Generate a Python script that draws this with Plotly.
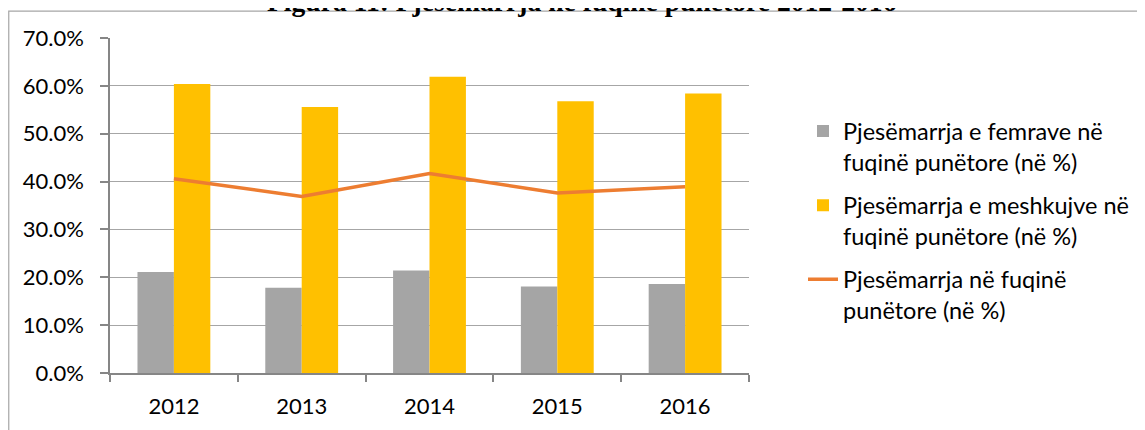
import plotly.graph_objects as go

years = ["2012", "2013", "2014", "2015", "2016"]
female = [0.211, 0.178, 0.214, 0.181, 0.186]
male = [0.604, 0.556, 0.619, 0.568, 0.584]
total = [0.406, 0.369, 0.417, 0.376, 0.389]
y_ticks = [0.0, 0.1, 0.2, 0.3, 0.4, 0.5, 0.6, 0.7]

names = [
    "Pjesëmarrja e femrave në<br>fuqinë punëtore (në %)",
    "Pjesëmarrja e meshkujve në<br>fuqinë punëtore (në %)",
    "Pjesëmarrja në fuqinë<br>punëtore (në %)",
]
title_text = "Figura 11: Pjesëmarrja në fuqinë punëtore 2012-2016"

FONT = "Lato"
# the page body adds an 8px offset, so the figure is sized/placed accordingly
W, H = 1137, 422
L, R = 102, 742
T, B = 29.5, 365.5
pw, ph = R - L, B - T


def px(x):
    return (x - L) / pw


def py(y):
    return (B - y) / ph


fig = go.Figure()
fig.add_trace(go.Bar(x=years, y=female, name=names[0], marker_color="#A5A5A5",
                     marker_line_width=0, legendgroup="f"))
fig.add_trace(go.Bar(x=years, y=male, name=names[1], marker_color="#FFC000",
                     marker_line_width=0, legendgroup="m"))
fig.add_trace(go.Scatter(x=years, y=total, name=names[2], mode="lines",
                         line=dict(color="#ED7D31", width=3.5), legendgroup="t"))

fig.update_layout(
    width=W, height=H,
    margin=dict(l=L, r=W - R, t=T, b=H - B, pad=0),
    paper_bgcolor="white", plot_bgcolor="white",
    barmode="group", bargap=0.43, bargroupgap=0,
    font=dict(family=FONT, size=22, color="#000000"),
    showlegend=True,
    legend=dict(
        x=px(795), xanchor="left", y=py(101), yanchor="top",
        font=dict(family=FONT, size=23.5, color="#000000"),
        bgcolor="rgba(0,0,0,0)", traceorder="grouped", tracegroupgap=10,
        valign="top",
    ),
    xaxis=dict(
        type="category", showgrid=False, showline=True, linecolor="#868686",
        linewidth=1.5, ticks="outside", tickson="boundaries", ticklen=7,
        tickcolor="#868686", tickwidth=1.5, ticklabelstandoff=13,
        tickfont=dict(family=FONT, size=22, color="#000000"),
    ),
    yaxis=dict(
        range=[0, 0.7], tickvals=y_ticks, tickformat=".1%",
        showgrid=True, gridcolor="#A6A6A6", gridwidth=1.2,
        showline=True, linecolor="#868686", linewidth=1.5,
        ticks="outside", ticklen=8, tickcolor="#868686", tickwidth=1.5,
        ticklabelstandoff=12, zeroline=False,
        tickfont=dict(family=FONT, size=22, color="#000000"),
    ),
    shapes=[dict(type="rect", xref="paper", yref="paper",
                 x0=px(0.6), x1=px(1160), y0=py(445), y1=py(2.5),
                 line=dict(color="#A6A6A6", width=1.2), fillcolor="rgba(0,0,0,0)",
                 layer="below")],
    annotations=[dict(text="<b>" + title_text + "</b>", xref="paper", yref="paper",
                      x=px(574), xanchor="center", y=py(10), yanchor="bottom",
                      showarrow=False,
                      font=dict(family="Liberation Serif", size=27.6, color="#000000"))],
)

fig.write_html("out.html")
